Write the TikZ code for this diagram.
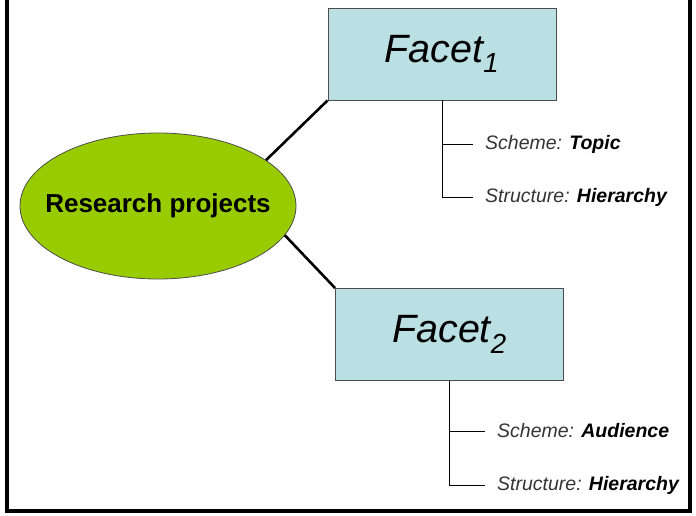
\documentclass[tikz,border=0pt]{standalone}
\usepackage{fontspec}
\setmainfont{Liberation Sans}
\usetikzlibrary{shapes.geometric}
\definecolor{facetblue}{HTML}{BBE0E3}
\definecolor{rpgreen}{HTML}{99CC00}
\definecolor{labelgray}{HTML}{333333}
\tikzset{
  facetbox/.style={draw=black!70, line width=0.8pt, fill=facetblue, minimum width=228pt, minimum height=92pt, inner sep=0pt, font=\fontsize{39.5}{42}\selectfont\itshape},
  rpnode/.style={ellipse, draw=black!70, line width=0.8pt, fill=rpgreen, minimum width=276pt, minimum height=146pt, inner sep=0pt},
  rptext/.style={inner sep=0pt, font=\fontsize{26}{30}\selectfont\bfseries},
  leaf/.style={anchor=west, inner sep=0pt, font=\fontsize{19.5}{22}\selectfont, text=labelgray},
  mainline/.style={line width=2.6pt},
  treeline/.style={line width=0.9pt},
  frameline/.style={line width=4pt}
}
\begin{document}
\begin{tikzpicture}[x=1pt,y=-1pt]
\useasboundingbox (0,0) rectangle (696,515);
\draw[frameline] (7,-5) -- (7,511) -- (690,511) -- (690,-5);
\node[rpnode] (rp) at (158,206) {};
\node[rptext] (rpt) at (rp.center) {Research projects};
\node[facetbox] (f1) at (442,54) {Facet\textsubscript{1}};
\node[facetbox] (f2) at (449.5,334.5) {Facet\textsubscript{2}};
\draw[mainline] (rp.23) -- (f1.south west);
\draw[mainline] (rp.-13) -- (f2.north west);
\node[leaf] (s1) at (485,144) {\itshape Scheme: \textcolor{black}{\bfseries Topic}};
\node[leaf] (t1) at (485,197) {\itshape Structure: \textcolor{black}{\bfseries Hierarchy}};
\node[leaf] (s2) at (497,431) {\itshape Scheme: \textcolor{black}{\bfseries Audience}};
\node[leaf] (t2) at (497,485) {\itshape Structure: \textcolor{black}{\bfseries Hierarchy}};
\draw[treeline] (f1.south) -- (f1.south |- t1.west) -- ([xshift=-12pt]t1.west);
\draw[treeline] (f1.south |- s1.west) -- ([xshift=-12pt]s1.west);
\draw[treeline] (f2.south) -- (f2.south |- t2.west) -- ([xshift=-12pt]t2.west);
\draw[treeline] (f2.south |- s2.west) -- ([xshift=-12pt]s2.west);
\end{tikzpicture}
\end{document}
